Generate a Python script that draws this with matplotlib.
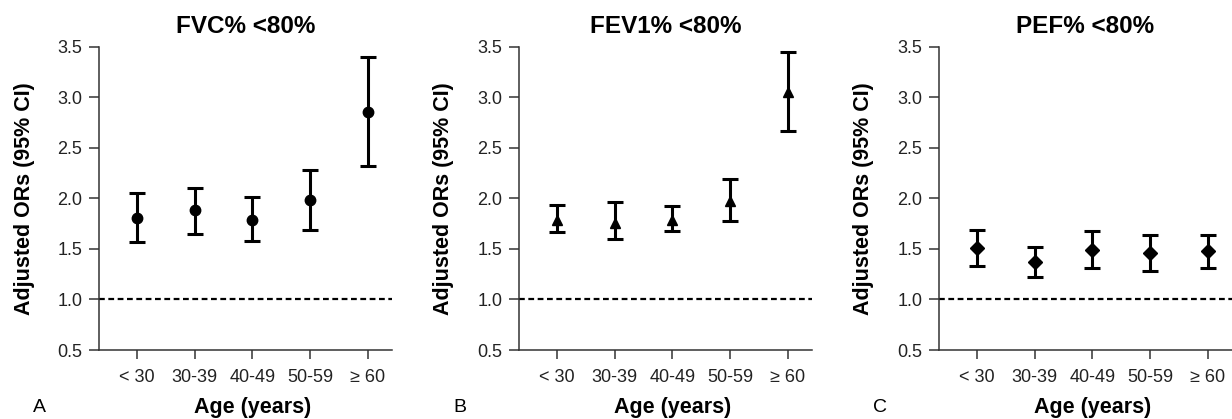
import matplotlib
matplotlib.use("Agg")
import matplotlib.pyplot as plt
import matplotlib.transforms as mtransforms

plt.rcParams['font.family'] = ['Liberation Sans', 'DejaVu Sans']

age_groups = ["< 30", "30-39", "40-49", "50-59", "\u2265 60"]

titles = ["FVC% <80%", "FEV1% <80%", "PEF% <80%"]
panel_letters = ["A", "B", "C"]
markers = ["o", "^", "D"]

fvc_or = [1.81, 1.88, 1.79, 1.98, 2.85]
fvc_lo = [1.57, 1.65, 1.58, 1.69, 2.32]
fvc_hi = [2.05, 2.10, 2.01, 2.28, 3.40]

fev1_or = [1.79, 1.76, 1.79, 1.97, 3.05]
fev1_lo = [1.67, 1.60, 1.68, 1.78, 2.67]
fev1_hi = [1.93, 1.96, 1.92, 2.19, 3.45]

pef_or = [1.51, 1.37, 1.49, 1.46, 1.48]
pef_lo = [1.33, 1.22, 1.31, 1.28, 1.31]
pef_hi = [1.69, 1.52, 1.68, 1.64, 1.64]

y_ticks = [0.5, 1.0, 1.5, 2.0, 2.5, 3.0, 3.5]
ref_line = 1.0

series = [(fvc_or, fvc_lo, fvc_hi), (fev1_or, fev1_lo, fev1_hi), (pef_or, pef_lo, pef_hi)]

W, H = 1232, 419
fig = plt.figure(figsize=(W / 100, H / 100), dpi=100)

lefts = [99, 519, 939]
ax_w = 293
ax_top, ax_bot = 46.7, 350

for i in range(3):
    ax = fig.add_axes([lefts[i] / W, 1 - ax_bot / H, ax_w / W, (ax_bot - ax_top) / H])
    ors, lo, hi = series[i]
    x = list(range(len(age_groups)))
    yerr = [[o - l for o, l in zip(ors, lo)], [h - o for o, h in zip(ors, hi)]]
    ms = {"o": 7.5, "^": 7.5, "D": 7.0}[markers[i]]
    ax.errorbar(x, ors, yerr=yerr, fmt=markers[i], color='black', ecolor='black',
                markersize=ms, elinewidth=2.2, capsize=5.5, capthick=2.2, zorder=3)
    ax.axhline(ref_line, color='black', lw=1.6, dashes=(2.6, 1.6), zorder=2)
    ax.set_xlim(-0.66, 4.42)
    ax.set_ylim(0.5, 3.5)
    ax.set_yticks(y_ticks)
    ax.set_yticklabels([f"{v:.1f}" for v in y_ticks])
    ax.set_xticks(x)
    ax.set_xticklabels(age_groups)
    for s in ['top', 'right']:
        ax.spines[s].set_visible(False)
    for s in ['left', 'bottom']:
        ax.spines[s].set_color('#333333')
        ax.spines[s].set_linewidth(1.1)
    ax.tick_params(axis='y', length=7, width=1.1, color='#333333', pad=5,
                   labelsize=13, labelcolor='#222222')
    ax.tick_params(axis='x', length=6.5, width=1.1, color='#333333', pad=7,
                   labelsize=13, labelcolor='#222222')
    ax.patch.set_alpha(0)

    ax.set_title(titles[i], fontsize=17.5, fontweight='bold', pad=10)
    ax.text(-75 / ax_w, 0.5, "Adjusted ORs (95% CI)", transform=ax.transAxes,
            rotation=90, ha='center', va='center', fontsize=15.5, fontweight='bold')
    trans = mtransforms.blended_transform_factory(ax.transData, fig.transFigure)
    ax.text(2, (H - 413) / H, "Age (years)", transform=trans, ha='center',
            va='baseline', fontsize=15.5, fontweight='bold')
    fig.text((lefts[i] - 66) / W, (H - 412) / H, panel_letters[i], ha='left',
             va='baseline', fontsize=14)

fig.savefig("out.png", dpi=100, facecolor='white')
